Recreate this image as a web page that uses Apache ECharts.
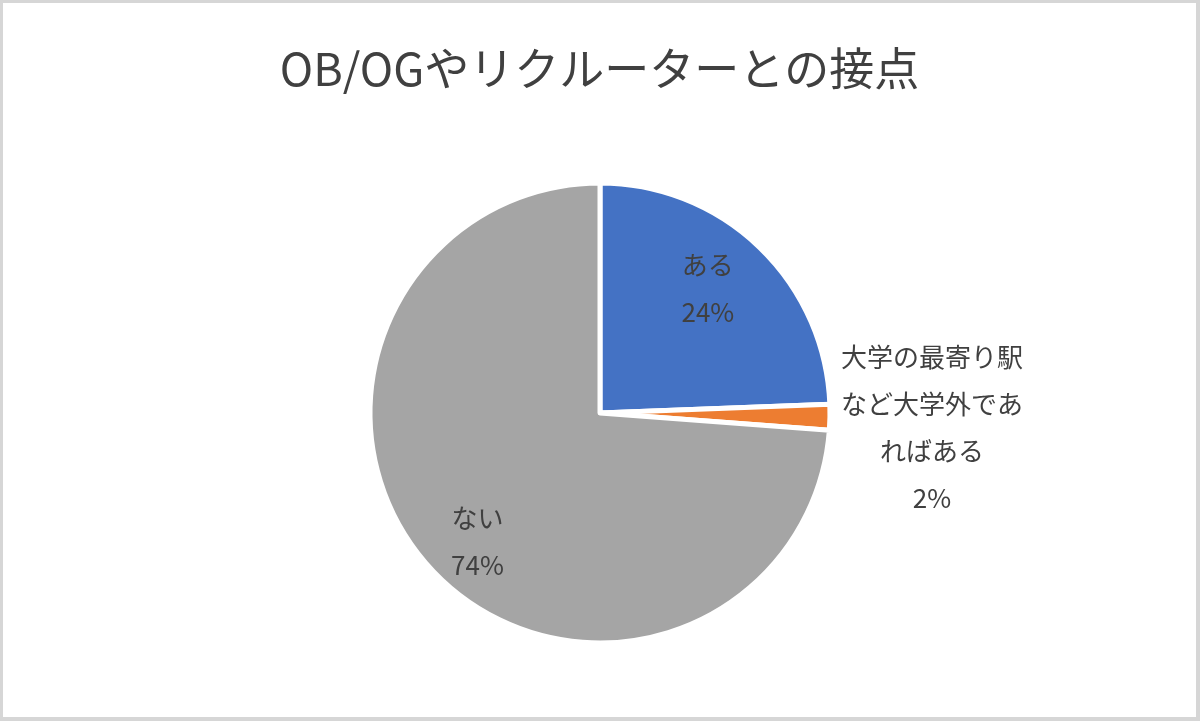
<!DOCTYPE html>
<html>
<head>
<meta charset="utf-8">
<script src="https://cdn.jsdelivr.net/npm/echarts@6/dist/echarts.min.js"></script>
<style>
html,body{margin:0;padding:0;background:#fff;}
#frame{width:1200px;height:721px;box-sizing:border-box;border:3px solid #d6d6d6;border-right-width:4px;border-bottom-width:4px;}
#chart{width:100%;height:100%;}
</style>
</head>
<body>
<div id="frame"><div id="chart"></div></div>
<script>
const titleText = 'OB/OGやリクルーターとの接点';
const categories = ['ある', '大学の最寄り駅\nなど大学外であ\nればある', 'ない'];
const values = [24.4, 1.8, 73.8];
const colors = ['#4472C4', '#ED7D31', '#A5A5A5'];
const labelShift = [[26, -39], [214, 12], [-36, 48]];

const FONT = '"Noto Sans CJK JP", "Noto Sans", sans-serif';
const chart = echarts.init(document.getElementById('chart'), null, {renderer: 'canvas'});
chart.setOption({
  animation: false,
  title: {
    text: titleText,
    left: 'center',
    top: 38,
    textStyle: {fontFamily: FONT, fontSize: 45, fontWeight: 'normal', color: '#404040'}
  },
  series: [{
    type: 'pie',
    center: [597, 410],
    radius: [0, 230],
    startAngle: 90,
    clockwise: true,
    percentPrecision: 0,
    itemStyle: {borderColor: '#ffffff', borderWidth: 5},
    label: {
      show: true,
      position: 'inside',
      formatter: '{b}\n{d}%',
      fontFamily: FONT,
      fontSize: 26,
      lineHeight: 47,
      color: '#404040',
      align: 'center'
    },
    labelLine: {show: false},
    labelLayout: function (p) {
      const s = labelShift[p.dataIndex];
      return {dx: s[0], dy: s[1]};
    },
    emphasis: {disabled: true},
    data: categories.map((c, i) => ({name: c, value: values[i], itemStyle: {color: colors[i]}}))
  }]
});
</script>
</body>
</html>
